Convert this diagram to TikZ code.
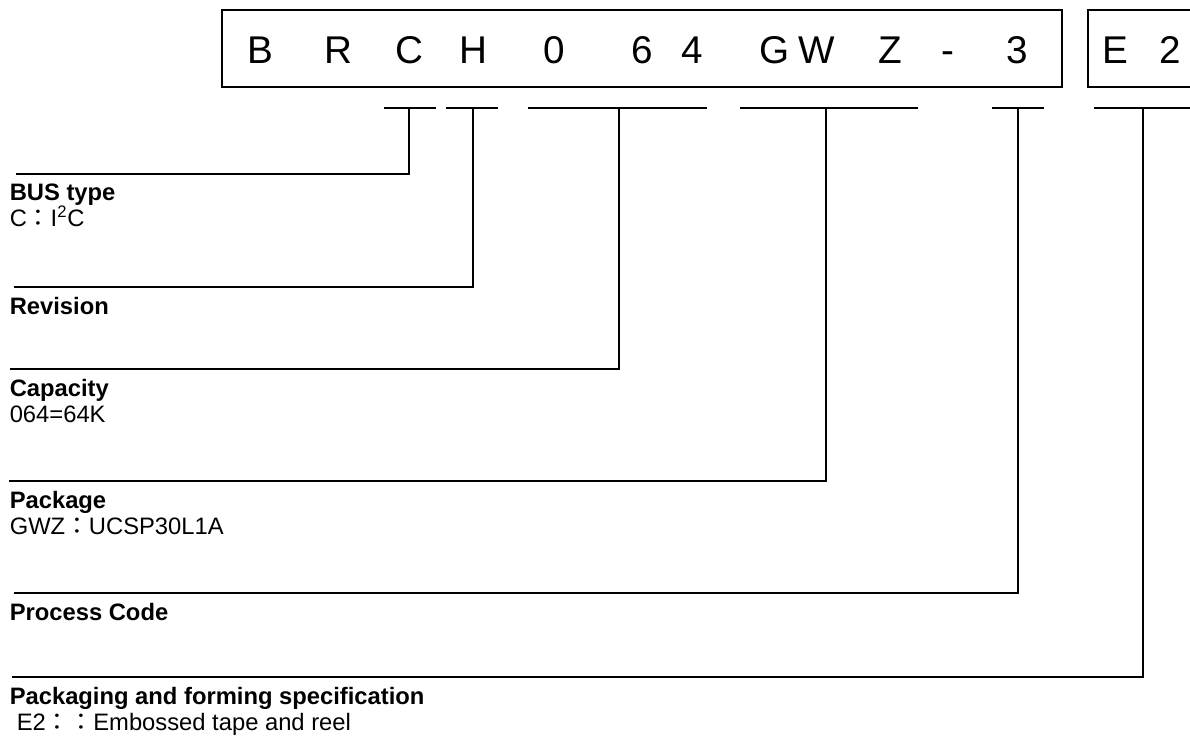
\documentclass[tikz,border=0pt]{standalone}
\usepackage{fontspec}
\setmainfont{Liberation Sans}
\newfontfamily\cjk{Noto Sans CJK JP}
\usetikzlibrary{positioning}

\begin{document}
\begin{tikzpicture}[x=0.025cm, y=-0.025cm, line width=1.1pt,
  partchar/.style={font=\fontsize{27.5}{32}\selectfont, inner sep=0pt, anchor=base},
  fieldname/.style={font=\fontsize{16.9}{20}\selectfont\bfseries, inner sep=0pt, anchor=base west},
  fieldval/.style={font=\fontsize{16.9}{20}\selectfont, inner sep=0pt, anchor=base west},
  tickbar/.style={line width=1pt}]
  \useasboundingbox (0,0) rectangle (1190,744);
  %--- part number ---
  \draw (222,10) rectangle (1062,87);
  \draw (1190,10) -- (1088,10) -- (1088,87) -- (1190,87);
  \foreach \ch/\xx [count=\i] in {B/260, R/338, C/409, H/473, 0/554, 6/642, 4/692,
      G/775, W/817, Z/890, -/948, 3/1017, E/1115, 2/1170}
    \node[partchar] (ch\i) at (\xx,63) {\ch};
  %--- tick bars under the fields ---
  \draw[tickbar] (384,108) -- (436,108);
  \draw[tickbar] (446,108) -- (498,108);
  \draw[tickbar] (528,108) -- (707,108);
  \draw[tickbar] (740,108) -- (918,108);
  \draw[tickbar] (992,108) -- (1044,108);
  \draw[tickbar] (1094,108) -- (1190,108);
  \coordinate (tBus) at (409,108);
  \coordinate (tRev) at (473,108);
  \coordinate (tCap) at (619,108);
  \coordinate (tPkg) at (826,108);
  \coordinate (tProc) at (1018,108);
  \coordinate (tPack) at (1143,108);
  % left ends of the leader lines
  \coordinate (lBus) at (16,174);
  \coordinate (lRev) at (14,287);
  \coordinate (lCap) at (10,369);
  \coordinate (lPkg) at (9,481);
  \coordinate (lProc) at (14,593);
  \coordinate (lPack) at (12,677);
  \draw (tBus) |- (lBus);
  \draw (tRev) |- (lRev);
  \draw (tCap) |- (lCap);
  \draw (tPkg) |- (lPkg);
  \draw (tProc) |- (lProc);
  \draw (tPack) |- (lPack);
  %--- field descriptions ---
  \node[fieldname] (busName) at (9,200) {BUS type};
  \node[fieldval] (busVal) at (9,226) {C{\cjk ：}I\textsuperscript{2}C};
  \node[fieldname] (revName) at (9,314) {Revision};
  \node[fieldname] (capName) at (9,396) {Capacity};
  \node[fieldval] (capVal) at (9,422) {064=64K};
  \node[fieldname] (pkgName) at (9,508) {Package};
  \node[fieldval] (pkgVal) at (9,534) {GWZ{\cjk ：}UCSP30L1A};
  \node[fieldname] (procName) at (9,620) {Process Code};
  \node[fieldname] (packName) at (9,704) {Packaging and forming specification};
  \node[fieldval] (packVal) at (16,730) {E2{\cjk ：：}Embossed tape and reel};
\end{tikzpicture}
\end{document}
